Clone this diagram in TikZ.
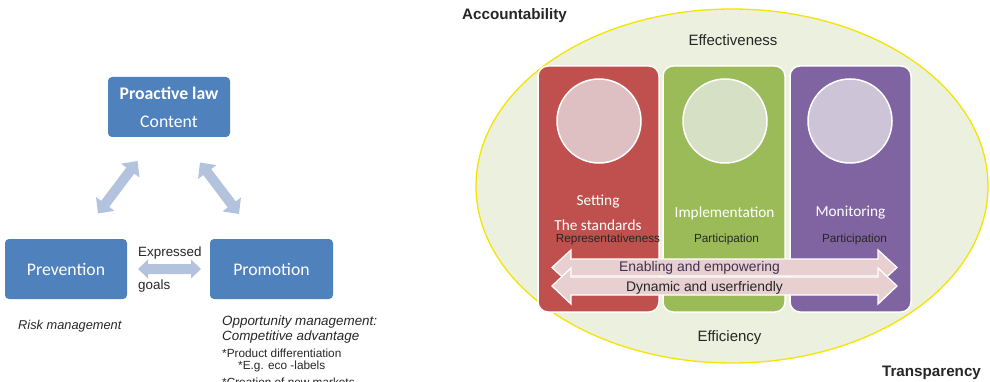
\documentclass[tikz,border=0pt]{standalone}
\usepackage{fontspec}
\setmainfont{Liberation Sans}
\newfontfamily\calib{Carlito}
\usetikzlibrary{calc,shapes.geometric}
\definecolor{bbox}{HTML}{4F81BD}
\definecolor{barrow}{HTML}{B3C3DE}
\definecolor{ellfill}{HTML}{EBF0DF}
\definecolor{ellline}{HTML}{F5E400}
\definecolor{redbox}{HTML}{C0504D}
\definecolor{greenbox}{HTML}{9BBB59}
\definecolor{purplebox}{HTML}{8064A2}
\definecolor{redlight}{HTML}{DFC0C2}
\definecolor{greenlight}{HTML}{D6E0C5}
\definecolor{purplelight}{HTML}{CDC4D8}
\definecolor{pinkarrow}{HTML}{E8D0D0}
\definecolor{txtdark}{HTML}{262626}
\definecolor{txtpurple}{HTML}{3F3151}
% #1 start, #2 end, #3 shaft half width, #4 head half width, #5 head length, #6 style
\newcommand\fatarrow[6]{%
  \path[#6] (#1)
   -- ($(#1)!#5!(#2)!#4!90:(#2)$) -- ($(#1)!#5!(#2)!#3!90:(#2)$)
   -- ($(#2)!#5!(#1)!#3!-90:(#1)$) -- ($(#2)!#5!(#1)!#4!-90:(#1)$)
   -- (#2)
   -- ($(#2)!#5!(#1)!#4!90:(#1)$) -- ($(#2)!#5!(#1)!#3!90:(#1)$)
   -- ($(#1)!#5!(#2)!#3!-90:(#2)$) -- ($(#1)!#5!(#2)!#4!-90:(#2)$)
   -- cycle;}
\begin{document}
\begin{tikzpicture}[x=1pt,y=-1pt,
  bluebox/.style={rectangle, rounded corners=4pt, fill=bbox, minimum width=122pt,
    minimum height=60pt, text=white, font=\calib\fontsize{17.7}{28}\selectfont,
    align=center, inner sep=0pt},
  colbox/.style={rectangle, rounded corners=10pt, draw=white, line width=1.5pt,
    minimum width=121pt, minimum height=246pt},
  disc/.style={circle, draw=white, line width=1.5pt, minimum size=84pt, inner sep=0pt},
  boxlabel/.style={text=white, font=\calib\fontsize{15.3}{18}\selectfont, inner sep=0pt},
  smalllabel/.style={text=txtdark, font=\fontsize{11.8}{14}\selectfont, inner sep=0pt},
  midlabel/.style={text=txtdark, font=\fontsize{13.4}{16}\selectfont, inner sep=0pt},
  bigtxt/.style={text=txtdark, font=\fontsize{15}{18}\selectfont, inner sep=0pt},
  boldtxt/.style={text=txtdark, font=\bfseries\fontsize{15.2}{18}\selectfont, inner sep=0pt},
  lightarrow/.style={fill=barrow},
  pinkarr/.style={fill=pinkarrow, draw=white, line width=1.3pt, line join=miter}
]
\useasboundingbox (0,0) rectangle (990,382);
\clip (0,0) rectangle (990,382);

% ---------------- left diagram ----------------
\node[bluebox] (law) at (169,107) {\textbf{Proactive law}\\Content};
\node[bluebox] (prev) at (66,269) {Prevention};
\node[bluebox, minimum width=123pt] (prom) at (271.5,269) {Promotion};

\coordinate (lawL) at (137.5,161);
\coordinate (prevT) at (98,213.5);
\coordinate (lawR) at (200,162.5);
\coordinate (promT) at (239,214);
\coordinate (prevR) at (138,269);
\coordinate (promL) at (201,269);
\fatarrow{prevT}{lawL}{5pt}{11.5pt}{12pt}{lightarrow}
\fatarrow{lawR}{promT}{5pt}{11.5pt}{12pt}{lightarrow}
\fatarrow{prevR}{promL}{5pt}{9.5pt}{10pt}{lightarrow}

\node[midlabel, anchor=west] (expr) at (138,253) {Expressed};
\node[midlabel, anchor=west] (goals) at (138,286) {goals};

\node[midlabel, font=\itshape\fontsize{12.8}{15}\selectfont, anchor=west] (risk) at (18,326) {Risk management};
\node[midlabel, font=\itshape\fontsize{13.4}{16}\selectfont, anchor=west] (opp1) at (222,322) {Opportunity management:};
\node[midlabel, font=\itshape\fontsize{13.4}{16}\selectfont, anchor=west] (opp2) at (222,337) {Competitive advantage};
\node[smalllabel, anchor=west] (opp3) at (222,353) {*Product differentiation};
\node[smalllabel, anchor=west] (opp4) at (238,366) {*E.g. eco -labels};
\node[smalllabel, anchor=west] (opp5) at (222,382) {*Creation of new markets};

% ---------------- right diagram ----------------
\node[ellipse, fill=ellfill, draw=ellline, line width=1.3pt,
      minimum width=512pt, minimum height=354pt, inner sep=0pt] (ell) at (732,186) {};

\node[colbox, fill=redbox] (setbox) at (598.5,189) {};
\node[colbox, fill=greenbox, minimum width=122pt] (impbox) at (724,189) {};
\node[colbox, fill=purplebox] (monbox) at (850.5,189) {};

\node[disc, fill=redlight] (c1) at (599,121) {};
\node[disc, fill=greenlight] (c2) at (725,121) {};
\node[disc, fill=purplelight] (c3) at (850,121) {};

\node[boxlabel] (set1) at (598,202) {Setting};
\node[boxlabel] (set2) at (598,225) {The standards};
\node[boxlabel] (imp) at (724.5,213) {Implementation};
\node[boxlabel] (mon) at (850.5,213) {Monitoring};

\node[smalllabel] (rep) at (608,239.5) {Representativeness};
\node[smalllabel] (par1) at (726.5,239.5) {Participation};
\node[smalllabel] (par2) at (854.5,239.5) {Participation};

\coordinate (e1L) at (552,267.5);
\coordinate (e1R) at (897,267.5);
\coordinate (e2L) at (552,286);
\coordinate (e2R) at (897,286);
\fatarrow{e1L}{e1R}{8.5pt}{17.5pt}{19pt}{pinkarr}
\fatarrow{e2L}{e2R}{9pt}{18pt}{19pt}{pinkarr}

\node[midlabel, text=txtpurple, font=\fontsize{13.9}{16}\selectfont] (enab) at (699.5,268) {Enabling and empowering};
\node[midlabel, font=\fontsize{13.9}{16}\selectfont] (dyn) at (704.5,287.5) {Dynamic and userfriendly};

\node[bigtxt] (effect) at (733,40) {Effectiveness};
\node[bigtxt] (effic) at (729.5,338) {Efficiency};
\node[boldtxt] (acc) at (514.5,16) {Accountability};
\node[boldtxt] (trans) at (931.5,373) {Transparency};
\end{tikzpicture}
\end{document}
